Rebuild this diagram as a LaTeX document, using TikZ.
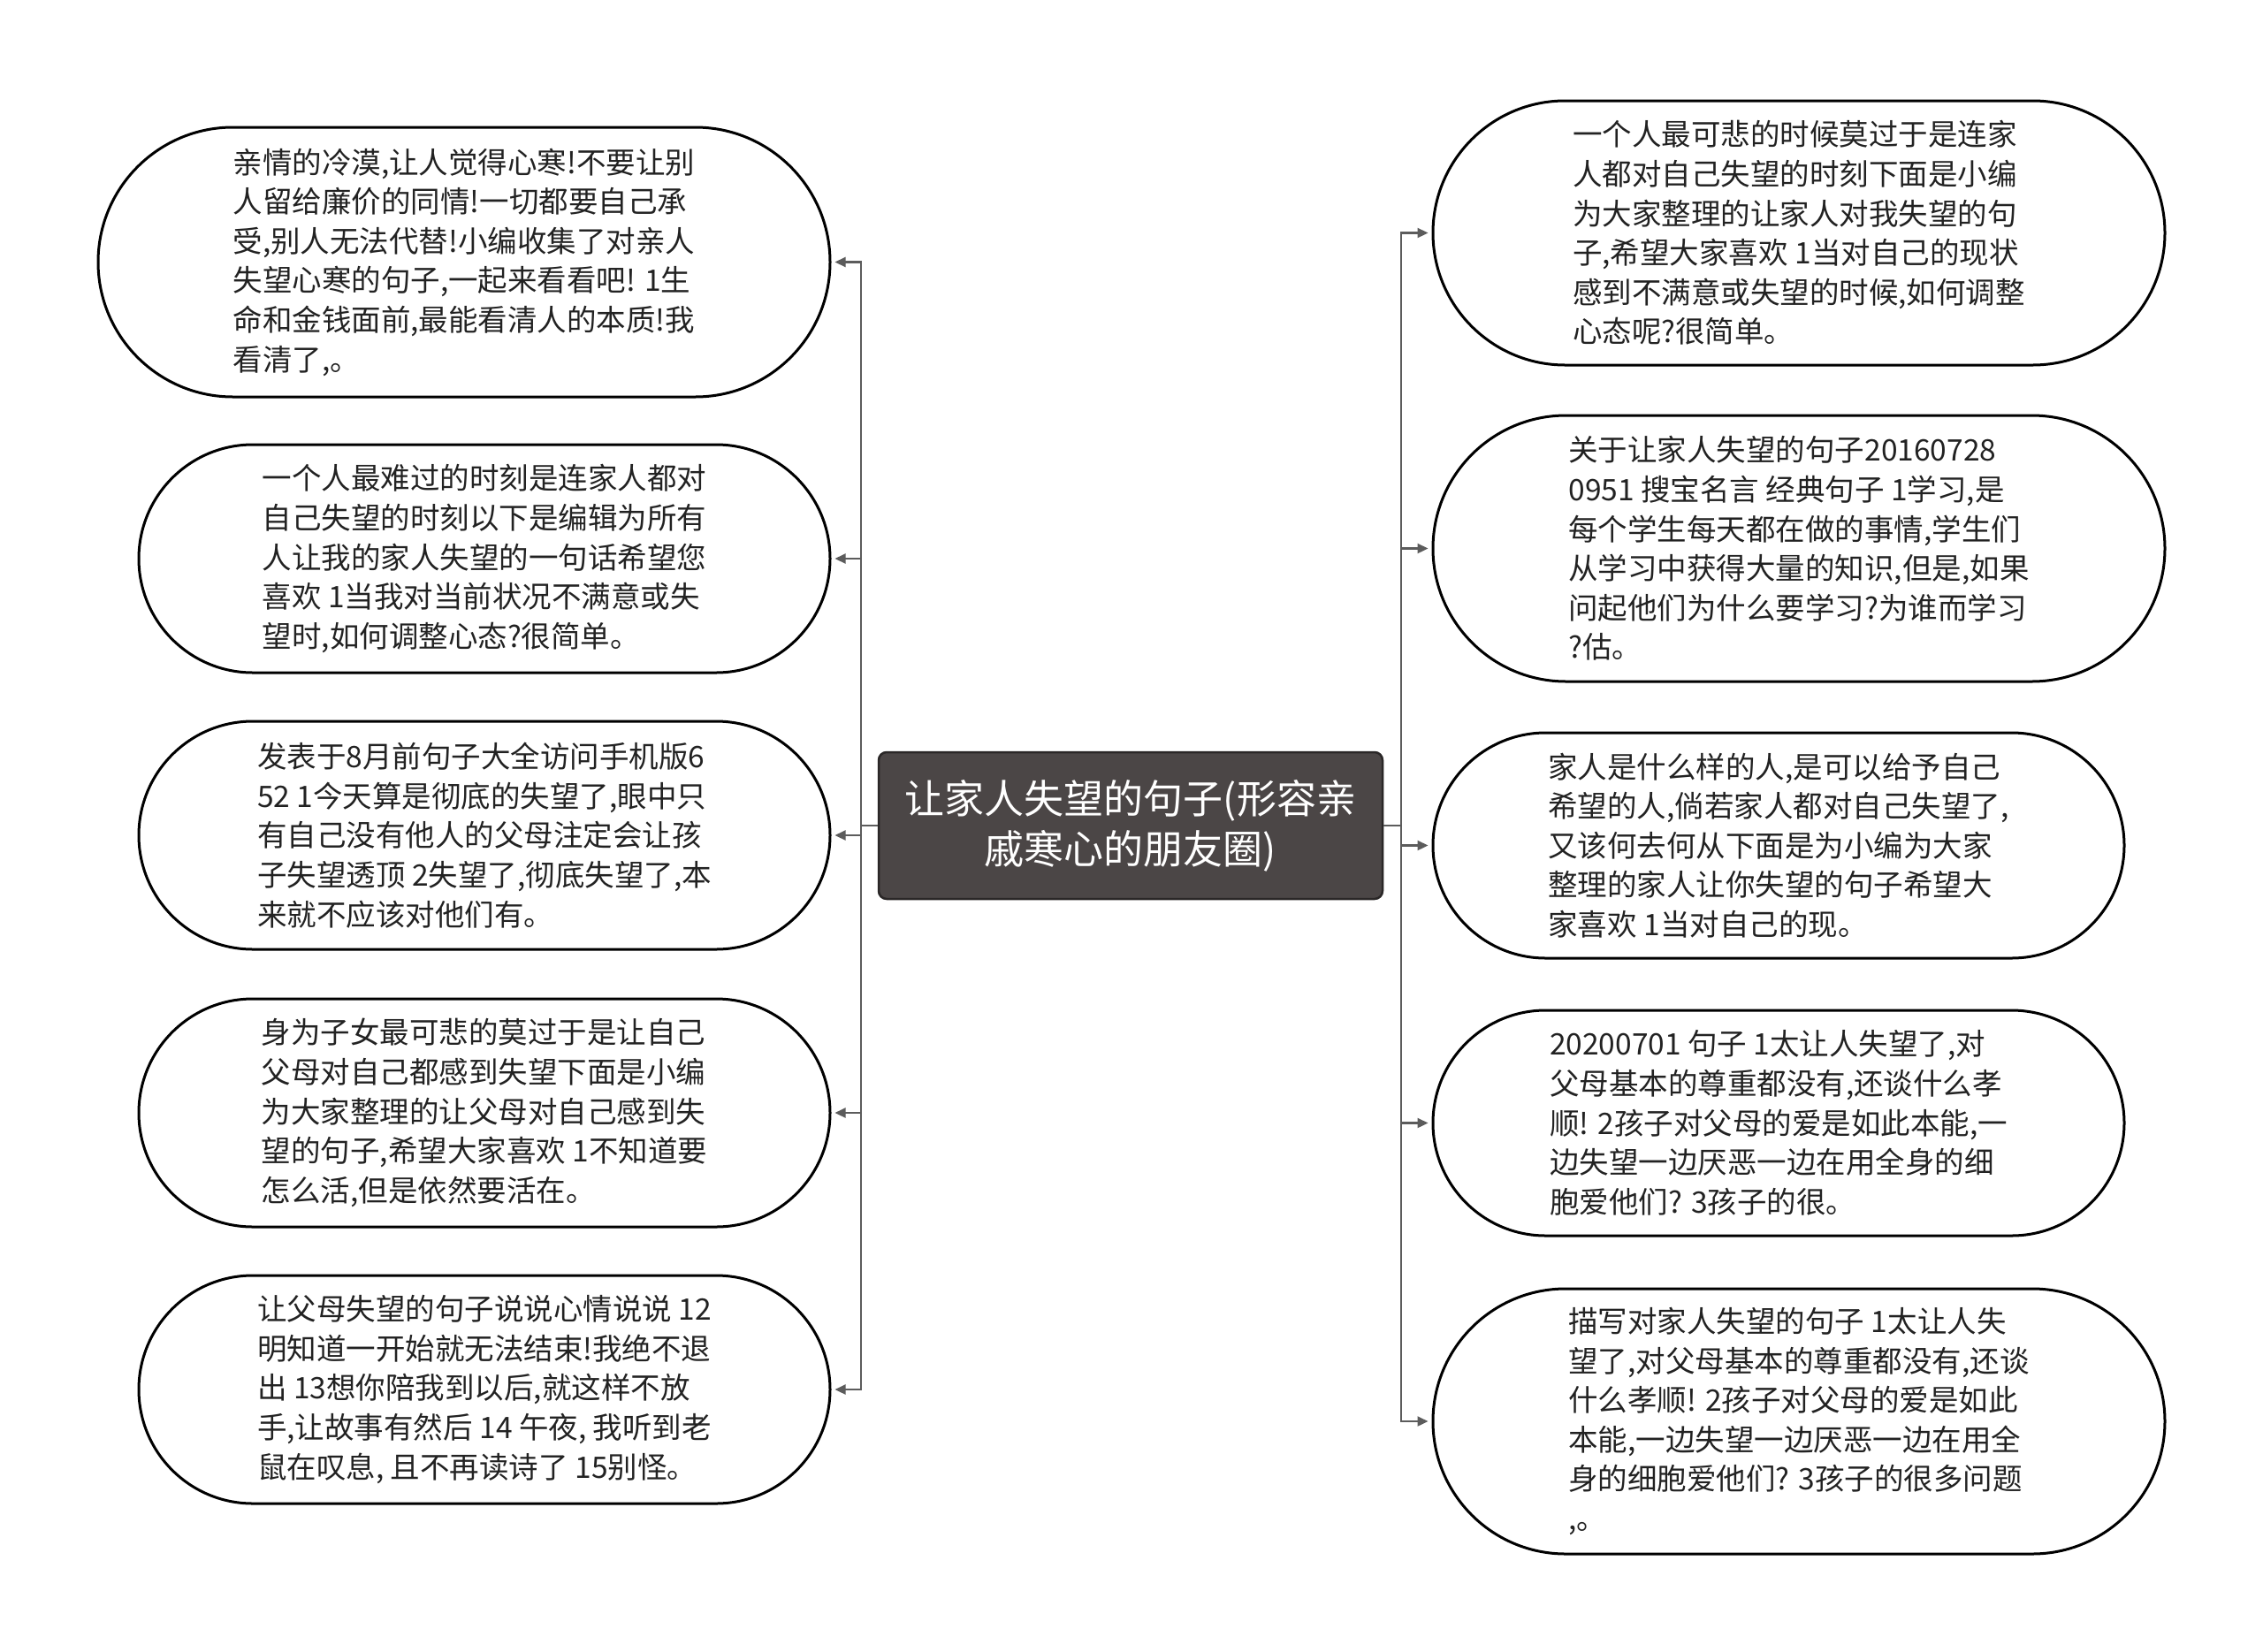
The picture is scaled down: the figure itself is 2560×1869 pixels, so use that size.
\documentclass[tikz,border=0pt]{standalone}
\usepackage{fontspec}
\setmainfont{Noto Sans CJK SC}
\usetikzlibrary{shapes.misc,arrows.meta}
\definecolor{rootfill}{HTML}{4B4646}
\definecolor{rootdraw}{HTML}{2A2727}
\definecolor{linec}{HTML}{5C5C5C}
\definecolor{textc}{HTML}{222222}
\begin{document}
\begin{tikzpicture}[x=1pt,y=1pt,
  leaf/.style={rounded rectangle, draw=black, line width=3pt, fill=white, align=left,
    font=\fontsize{33.5}{44.6}\selectfont, text=textc, inner sep=0pt},
  wide/.style={minimum width=828pt},
  narrow/.style={minimum width=782pt},
  rootbox/.style={rectangle, rounded corners=9pt, draw=rootdraw, line width=2.5pt, fill=rootfill,
    text=white, align=center, font=\fontsize{45}{57}\selectfont,
    minimum width=570pt, minimum height=166pt, inner sep=0pt},
  conn/.style={draw=linec, line width=2.2pt, -{Triangle[length=12pt,width=11pt]}, shorten >=4pt},
]
\useasboundingbox (0,0) rectangle (2560,-1869);
\fill[white] (0,0) rectangle (2560,-1869);

\node[rootbox] (c) at (1279,-934) {让家人失望的句子(形容亲\\戚寒心的朋友圈)};

\node[leaf, wide, minimum height=305pt] (l1) at (525,-296.5) {亲情的冷漠,让人觉得心寒!不要让别\\人留给廉价的同情!一切都要自己承\\受,别人无法代替!小编收集了对亲人\\失望心寒的句子,一起来看看吧! 1生\\命和金钱面前,最能看清人的本质!我\\看清了,。};
\node[leaf, narrow, minimum height=258pt] (l2) at (548,-632) {一个人最难过的时刻是连家人都对\\自己失望的时刻以下是编辑为所有\\人让我的家人失望的一句话希望您\\喜欢 1当我对当前状况不满意或失\\望时,如何调整心态?很简单。};
\node[leaf, narrow, minimum height=258pt] (l3) at (548,-945) {发表于8月前句子大全访问手机版6\\52 1今天算是彻底的失望了,眼中只\\有自己没有他人的父母注定会让孩\\子失望透顶 2失望了,彻底失望了,本\\来就不应该对他们有。};
\node[leaf, narrow, minimum height=258pt] (l4) at (548,-1259) {身为子女最可悲的莫过于是让自己\\父母对自己都感到失望下面是小编\\为大家整理的让父母对自己感到失\\望的句子,希望大家喜欢 1不知道要\\怎么活,但是依然要活在。};
\node[leaf, narrow, minimum height=258pt] (l5) at (548,-1572) {让父母失望的句子说说心情说说 12\\明知道一开始就无法结束!我绝不退\\出 13想你陪我到以后,就这样不放\\手,让故事有然后 14 午夜, 我听到老\\鼠在叹息, 且不再读诗了 15别怪。};

\node[leaf, wide, minimum height=299pt] (r1) at (2035,-263.5) {一个人最可悲的时候莫过于是连家\\人都对自己失望的时刻下面是小编\\为大家整理的让家人对我失望的句\\子,希望大家喜欢 1当对自己的现状\\感到不满意或失望的时候,如何调整\\心态呢?很简单。};
\node[leaf, wide, minimum height=301pt] (r2) at (2035,-620.5) {关于让家人失望的句子20160728\\0951 搜宝名言 经典句子 1学习,是\\每个学生每天都在做的事情,学生们\\从学习中获得大量的知识,但是,如果\\问起他们为什么要学习?为谁而学习\\?估。};
\node[leaf, narrow, minimum height=255pt] (r3) at (2012,-956.5) {家人是什么样的人,是可以给予自己\\希望的人,倘若家人都对自己失望了,\\又该何去何从下面是为小编为大家\\整理的家人让你失望的句子希望大\\家喜欢 1当对自己的现。};
\node[leaf, narrow, minimum height=255pt] (r4) at (2012,-1270.5) {20200701 句子 1太让人失望了,对\\父母基本的尊重都没有,还谈什么孝\\顺! 2孩子对父母的爱是如此本能,一\\边失望一边厌恶一边在用全身的细\\胞爱他们? 3孩子的很。};
\node[leaf, wide, minimum height=300pt] (r5) at (2035,-1608) {描写对家人失望的句子 1太让人失\\望了,对父母基本的尊重都没有,还谈\\什么孝顺! 2孩子对父母的爱是如此\\本能,一边失望一边厌恶一边在用全\\身的细胞爱他们? 3孩子的很多问题\\,。};

\foreach \n in {l1,l2,l3,l4,l5}
  \draw[conn] (c.west) -- ++(-19,0) |- (\n.east);
\foreach \n in {r1,r2,r3,r4,r5}
  \draw[conn] (c.east) -- ++(20,0) |- (\n.west);
\end{tikzpicture}
\end{document}
